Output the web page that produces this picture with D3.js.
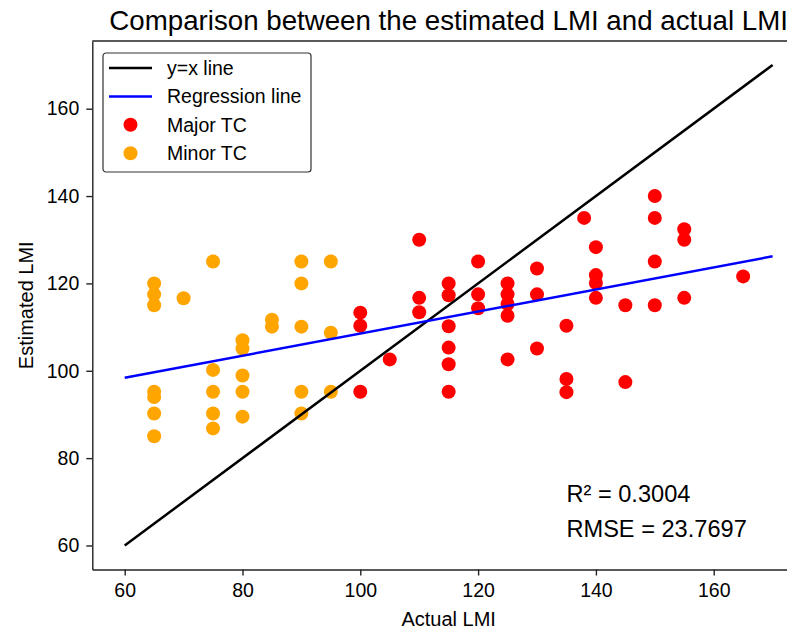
<!DOCTYPE html>
<html>
<head>
<meta charset="utf-8">
<script src="https://cdn.jsdelivr.net/npm/d3@7"></script>
<style>
  body { margin: 0; background: #fff; }
  svg { display: block; font-family: "Liberation Sans", Arial, sans-serif; }
  .axis text { font-size: 19.5px; fill: #000; }
  .axis path, .axis line { stroke: #222; stroke-width: 1.4px; }
</style>
</head>
<body>
<script>
// values
var majorX = [100, 100, 100, 105, 110, 110, 110, 115, 115, 115, 115, 115, 115,
              120, 120, 120, 125, 125, 125, 125, 125, 130, 130, 130, 135, 135, 135,
              138, 140, 140, 140, 140, 145, 145, 150, 150, 150, 150, 155, 155, 155, 165];
var majorY = [113.3, 110.3, 95.2, 102.6, 130, 116.7, 113.4, 120, 117.3, 110.2, 105.3, 101.5, 95.2,
              125, 117.5, 114.3, 120, 117.5, 115.3, 112.6, 102.6, 123.4, 117.5, 105.1, 110.3, 98.1, 95.1,
              135, 128.3, 121.9, 120.1, 116.7, 115, 97.4, 140, 135, 125, 115, 132.4, 130, 116.7, 121.6];

var minorX = [65, 65, 65, 65, 65, 65, 65, 70, 75, 75, 75, 75, 75,
              80, 80, 80, 80, 80, 85, 85, 90, 90, 90, 90, 90, 95, 95, 95];
var minorY = [120, 117.5, 115, 95.2, 94, 90.2, 85, 116.6, 125, 100.2, 95.2, 90.2, 86.8,
              107, 105.1, 98.9, 95.2, 89.5, 111.7, 110.1, 125, 120, 110.1, 95.2, 90.2, 125, 108.7, 95.2];

var identityX = [60, 170];
var regressionX = [60, 170], regressionY = [98.4, 126.2];

var xTicks = [60, 80, 100, 120, 140, 160],
    yTicks = [60, 80, 100, 120, 140, 160];

var legendItems = ["y=x line", "Regression line", "Major TC", "Minor TC"];
var statLines = ["R\u00B2 = 0.3004", "RMSE = 23.7697"];

var width = 787, height = 632,
    plot = {left: 92.3, right: 805, top: 41, bottom: 569.5};

var svg = d3.select("body").append("svg")
    .attr("width", width)
    .attr("height", height);

var x = d3.scaleLinear().domain([54.5, 175.5]).range([plot.left, plot.right]),
    y = d3.scaleLinear().domain([54.5, 175.5]).range([plot.bottom, plot.top]);

var major = majorX.map((v, i) => ({x: v, y: majorY[i]})),
    minor = minorX.map((v, i) => ({x: v, y: minorY[i]}));

// scatter (matplotlib draws collections below lines)
svg.append("g").selectAll("circle")
    .data(major)
    .enter().append("circle")
    .attr("cx", d => x(d.x))
    .attr("cy", d => y(d.y))
    .attr("r", 7)
    .attr("fill", "#ff0000");

svg.append("g").selectAll("circle")
    .data(minor)
    .enter().append("circle")
    .attr("cx", d => x(d.x))
    .attr("cy", d => y(d.y))
    .attr("r", 7)
    .attr("fill", "#ffa500");

var line = d3.line().x(d => x(d[0])).y(d => y(d[1]));

svg.append("path")
    .datum(identityX.map(v => [v, v]))
    .attr("d", line)
    .attr("fill", "none")
    .attr("stroke", "#000")
    .attr("stroke-width", 2.5);

svg.append("path")
    .datum(regressionX.map((v, i) => [v, regressionY[i]]))
    .attr("d", line)
    .attr("fill", "none")
    .attr("stroke", "#0000ff")
    .attr("stroke-width", 2.5);

// axes
svg.append("g")
    .attr("class", "axis")
    .attr("transform", `translate(0, ${plot.bottom})`)
    .call(d3.axisBottom(x).tickValues(xTicks).tickSize(6).tickSizeOuter(0).tickPadding(8));

svg.append("g")
    .attr("class", "axis")
    .attr("transform", `translate(${plot.left}, 0)`)
    .call(d3.axisLeft(y).tickValues(yTicks).tickSize(6).tickSizeOuter(0).tickPadding(7));

// top spine
svg.append("line")
    .attr("x1", plot.left).attr("x2", plot.right)
    .attr("y1", plot.top).attr("y2", plot.top)
    .attr("stroke", "#222").attr("stroke-width", 1.4);

// title and labels
svg.append("text")
    .text("Comparison between the estimated LMI and actual LMI")
    .attr("x", (plot.left + plot.right) / 2)
    .attr("y", 30)
    .attr("text-anchor", "middle")
    .style("font-size", "27.7px");

svg.append("text")
    .text("Actual LMI")
    .attr("x", (plot.left + plot.right) / 2)
    .attr("y", 626)
    .attr("text-anchor", "middle")
    .style("font-size", "20px");

svg.append("text")
    .text("Estimated LMI")
    .attr("transform", `translate(33, ${(plot.top + plot.bottom) / 2}) rotate(-90)`)
    .attr("text-anchor", "middle")
    .style("font-size", "20px");

// stats annotation
svg.append("g").selectAll("text")
    .data(statLines)
    .enter().append("text")
    .text(d => d)
    .attr("x", x(135))
    .attr("y", (d, i) => 501.7 + i * 35)
    .style("font-size", "23.6px");

// legend
var legend = svg.append("g").attr("transform", "translate(103, 53)");
legend.append("rect")
    .attr("width", 208).attr("height", 119)
    .attr("rx", 3)
    .attr("fill", "#fff")
    .attr("stroke", "#333")
    .attr("stroke-width", 1.2);

var rows = legend.selectAll("g.row")
    .data(legendItems)
    .enter().append("g")
    .attr("class", "row")
    .attr("transform", (d, i) => `translate(0, ${15 + i * 28.4})`);

rows.filter((d, i) => i < 2).append("line")
    .attr("x1", 6).attr("x2", 49)
    .attr("stroke", (d, i) => i === 0 ? "#000" : "#0000ff")
    .attr("stroke-width", 2.5);

rows.filter((d, i) => i >= 2).append("circle")
    .attr("cx", 27.5)
    .attr("r", 7)
    .attr("fill", (d, i) => i === 0 ? "#ff0000" : "#ffa500");

rows.append("text")
    .text(d => d)
    .attr("x", 64)
    .attr("y", 7)
    .style("font-size", "19.5px");
</script>
</body>
</html>
